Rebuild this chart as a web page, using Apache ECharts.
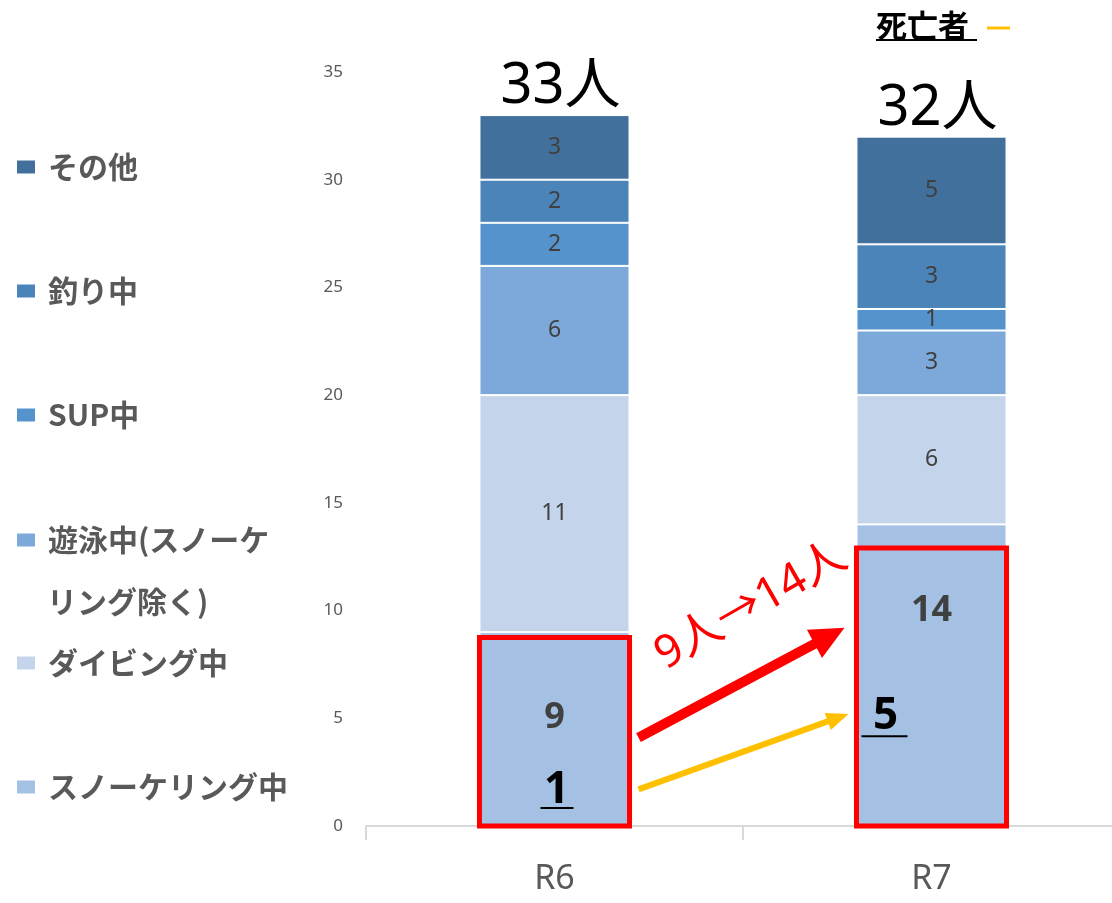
<!DOCTYPE html>
<html><head><meta charset="utf-8">
<script src="https://cdn.jsdelivr.net/npm/echarts@6/dist/echarts.min.js"></script>
<style>html,body{margin:0;padding:0;background:#fff;overflow:hidden}#c{width:1120px;height:903px}</style>
</head><body><div id="c"></div>
<script>
// ---- data ----
const categories = ['R6', 'R7'];
const seriesNames = ['スノーケリング中', 'ダイビング中', '遊泳中(スノーケリング除く)', 'SUP中', '釣り中', 'その他'];
const snorkeling = [9, 14];
const diving = [11, 6];
const swimming = [6, 3];
const sup = [2, 1];
const fishing = [2, 3];
const other = [3, 5];
const totals = [33, 32];
const deaths = [1, 5];
const yMin = 0, yMax = 35, yInterval = 5;

const JP = "'Noto Sans CJK JP', sans-serif";
const NUM = "'Noto Sans', 'Noto Sans CJK JP', sans-serif";
const colors = ['#A4C1E4', '#C4D5EB', '#7CA9DA', '#5593CC', '#4A84B8', '#42709D'];
const dataSets = [snorkeling, diving, swimming, sup, fishing, other];

const chart = echarts.init(document.getElementById('c'), null, {renderer: 'canvas'});

const series = dataSets.map((d, i) => ({
  name: seriesNames[i], type: 'bar', stack: 'a', barWidth: '39.8%', data: d,
  itemStyle: {color: colors[i], borderColor: '#fff', borderWidth: 1},
  label: i === 0
    ? {show: true, position: 'insideTop', distance: 68, fontSize: 36, fontWeight: 'bold', color: '#404040', fontFamily: NUM}
    : {show: true, position: 'inside', fontSize: 23, color: '#404040', fontFamily: NUM}
}));
series.push({
  name: '合計', type: 'bar', data: totals, barWidth: '39.8%', barGap: '-100%', silent: true, z: 1,
  itemStyle: {color: 'rgba(0,0,0,0)'},
  label: {show: true, position: 'top', distance: 0, offset: [6, 0], formatter: p => p.value + '人', fontSize: 56, color: '#000', fontFamily: NUM}
});

const legendCenters = [787, 663, 540, 415, 291, 167];
const legends = seriesNames.map((n, i) => ({
  data: [n], orient: 'vertical', left: 15, top: legendCenters[i] - 15, padding: 0,
  itemWidth: 20, itemHeight: 15, icon: 'rect', selectedMode: false,
  formatter: i === 2 ? '遊泳中(スノーケ' : '{name}',
  textStyle: {fontSize: 30, fontWeight: 'bold', color: '#595959', fontFamily: JP, padding: [0, 0, 0, 7]}
}));

const option = {
  animation: false,
  backgroundColor: '#fff',
  grid: {left: 366, right: 0, top: 72, bottom: 77, containLabel: false},
  legend: legends,
  xAxis: {
    type: 'category', data: categories,
    axisLine: {lineStyle: {color: '#D9D9D9', width: 2}},
    axisTick: {show: true, length: 14, lineStyle: {color: '#D9D9D9', width: 2}},
    axisLabel: {fontSize: 34, color: '#595959', margin: 36, fontFamily: NUM}
  },
  yAxis: {
    type: 'value', min: yMin, max: yMax, interval: yInterval,
    axisLine: {show: false}, axisTick: {show: false}, splitLine: {show: false},
    axisLabel: {fontSize: 17, color: '#595959', margin: 23, fontFamily: NUM}
  },
  series: series
};
chart.setOption(option);

function px(c, v) { return chart.convertToPixel({gridIndex: 0}, [c, v]); }
function arrow(tail, tip, w, L, H, color) {
  const dx = tip[0] - tail[0], dy = tip[1] - tail[1];
  const len = Math.sqrt(dx * dx + dy * dy);
  const ux = dx / len, uy = dy / len, nx = -uy, ny = ux;
  const bx = tip[0] - ux * L, by = tip[1] - uy * L;
  const pts = [
    [tail[0] + nx * w / 2, tail[1] + ny * w / 2],
    [bx + nx * w / 2, by + ny * w / 2],
    [bx + nx * H / 2, by + ny * H / 2],
    tip,
    [bx - nx * H / 2, by - ny * H / 2],
    [bx - nx * w / 2, by - ny * w / 2],
    [tail[0] - nx * w / 2, tail[1] - ny * w / 2]
  ];
  return {type: 'polygon', shape: {points: pts}, style: {fill: color}, z: 100};
}

const c0 = px(0, 0), c1 = px(1, 0);
const band = c1[0] - c0[0];
const half = band * 0.199;
const y0 = c0[1];
const boxTopVals = [8.75, 12.9];
const g = [];
[0, 1].forEach(i => {
  const cx = px(i, 0)[0];
  const yt = px(i, boxTopVals[i])[1];
  g.push({type: 'rect', shape: {x: cx - half, y: yt, width: half * 2, height: y0 - yt},
    style: {fill: 'none', stroke: '#FF0000', lineWidth: 5}, z: 90});
});
const r6Right = c0[0] + half, r7Left = c1[0] - half;
g.push(arrow([r6Right + 9, px(0, 4.1)[1]], [r7Left - 12, px(0, 9.2)[1]], 10, 34, 32, '#FF0000'));
g.push(arrow([r6Right + 9, px(0, 1.7)[1]], [r7Left - 8, px(0, 5.2)[1]], 6, 22, 18, '#FFC000'));
g.push({type: 'text', x: (r6Right + r7Left) / 2 + 8, y: px(0, 10.2)[1], rotation: 0.52, z: 100,
  style: {text: '9人→14人', fill: '#FF0000', font: "45px " + NUM, align: 'center', verticalAlign: 'middle'}});
// death counts
const d1x = c0[0] + 2, d1y = px(0, 1.67)[1];
g.push({type: 'text', x: d1x, y: d1y, z: 100,
  style: {text: String(deaths[0]), fill: '#000', font: "bold 44px " + NUM, align: 'center', verticalAlign: 'middle'}});
g.push({type: 'line', shape: {x1: d1x - 16, y1: d1y + 18, x2: d1x + 17, y2: d1y + 18}, style: {stroke: '#000', lineWidth: 2}, z: 100});
const d2x = r7Left + 29, d2y = px(1, 5.1)[1];
g.push({type: 'text', x: d2x, y: d2y, z: 100,
  style: {text: String(deaths[1]), fill: '#000', font: "bold 44px " + NUM, align: 'center', verticalAlign: 'middle'}});
g.push({type: 'line', shape: {x1: d2x - 24, y1: d2y + 20, x2: d2x + 22, y2: d2y + 20}, style: {stroke: '#000', lineWidth: 2}, z: 100});
// legend second line
g.push({type: 'text', x: 47, y: 602, style: {text: 'リング除く)', fill: '#595959', font: "bold 30px " + JP, verticalAlign: 'middle'}});
// 死亡者 note
g.push({type: 'text', x: 876, y: 25, style: {text: '死亡者', fill: '#000', font: "bold 31px " + JP, verticalAlign: 'middle'}});
g.push({type: 'line', shape: {x1: 876, y1: 40, x2: 977, y2: 40}, style: {stroke: '#000', lineWidth: 2}});
g.push({type: 'line', shape: {x1: 987, y1: 28, x2: 1010, y2: 28}, style: {stroke: '#FFC000', lineWidth: 3}});

chart.setOption({graphic: g});
</script>
</body></html>
